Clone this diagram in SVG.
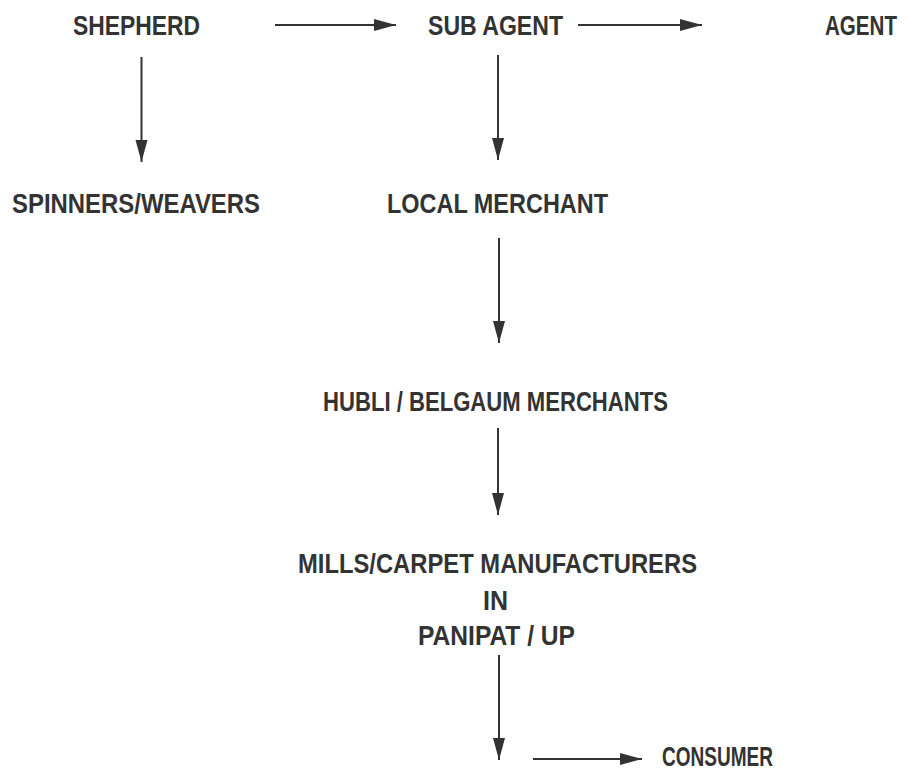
<svg xmlns="http://www.w3.org/2000/svg" width="908" height="771" viewBox="0 0 908 771">
<style>
text{font-family:"Liberation Sans Narrow","Liberation Sans",Arial,sans-serif;font-weight:bold;font-size:28.5px;fill:#333;}
.c{stroke:#333;stroke-width:2;fill:none;}
</style>
<defs>
<marker id="ah" markerUnits="userSpaceOnUse" markerWidth="24" markerHeight="14" refX="22" refY="6" orient="auto">
<path d="M0,0 L22,6 L0,12 z" fill="#333"/>
</marker>
</defs>
<rect width="908" height="771" fill="#fff"/>
<g id="connectors">
<line class="c" x1="275" y1="25" x2="396" y2="25" marker-end="url(#ah)"/>
<line class="c" x1="578" y1="25" x2="702" y2="25" marker-end="url(#ah)"/>
<line class="c" x1="141.5" y1="57" x2="141.5" y2="162" marker-end="url(#ah)"/>
<line class="c" x1="498" y1="55" x2="498" y2="160" marker-end="url(#ah)"/>
<line class="c" x1="499" y1="238" x2="499" y2="343" marker-end="url(#ah)"/>
<line class="c" x1="498" y1="428" x2="498" y2="515" marker-end="url(#ah)"/>
<line class="c" x1="499" y1="655" x2="499" y2="760" marker-end="url(#ah)"/>
<line class="c" x1="533" y1="759" x2="642" y2="759" marker-end="url(#ah)"/>
</g>
<g id="shepherd"><text x="73" y="35" textLength="127" lengthAdjust="spacingAndGlyphs">SHEPHERD</text></g>
<g id="subagent"><text x="428" y="35" textLength="135" lengthAdjust="spacingAndGlyphs">SUB AGENT</text></g>
<g id="agent"><text transform="translate(825,35) scale(0.722,1)" x="0" y="0">AGENT</text></g>
<g id="spinners"><text x="12" y="213" textLength="248" lengthAdjust="spacingAndGlyphs">SPINNERS/WEAVERS</text></g>
<g id="localmerchant"><text x="387" y="213" textLength="221" lengthAdjust="spacingAndGlyphs">LOCAL MERCHANT</text></g>
<g id="hubli"><text x="323" y="411" textLength="345" lengthAdjust="spacingAndGlyphs">HUBLI / BELGAUM MERCHANTS</text></g>
<g id="mills">
<text x="298" y="573" textLength="399" lengthAdjust="spacingAndGlyphs">MILLS/CARPET MANUFACTURERS</text>
<text x="483" y="610" textLength="25" lengthAdjust="spacingAndGlyphs">IN</text>
<text x="418" y="645" textLength="157" lengthAdjust="spacingAndGlyphs">PANIPAT / UP</text>
</g>
<g id="consumer"><text x="662" y="766" textLength="111" lengthAdjust="spacingAndGlyphs">CONSUMER</text></g>
</svg>
